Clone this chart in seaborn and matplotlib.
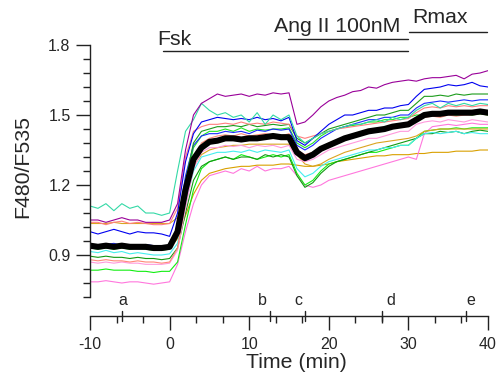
import numpy as np
import pandas as pd
import matplotlib
matplotlib.use("Agg")
import matplotlib.pyplot as plt
import seaborn as sns
from matplotlib.ticker import MultipleLocator, FixedLocator

# ---------------- data ----------------
time_min = list(range(-10, 41))

purple = [1.05,1.05,1.04,1.05,1.06,1.05,1.05,1.04,1.04,1.04,1.05,
          1.12,1.35,1.50,1.55,1.57,
          1.59,1.58,1.585,1.59,1.58,1.59,1.585,1.595,1.59,1.595,
          1.46,1.47,1.50,1.535,1.56,
          1.575,1.585,1.60,1.605,1.62,1.615,1.63,1.64,1.645,1.65,
          1.645,1.655,1.66,1.66,1.665,1.67,1.655,1.675,1.68,1.69]
teal = [1.11,1.10,1.12,1.09,1.12,1.10,1.11,1.08,1.08,1.07,1.08,
        1.26,1.43,1.48,1.55,1.52,
        1.50,1.51,1.49,1.50,1.47,1.51,1.46,1.50,1.48,1.50,
        1.41,1.38,1.40,1.42,1.43,
        1.44,1.45,1.46,1.46,1.47,1.48,1.47,1.49,1.48,1.49,
        1.52,1.54,1.55,1.53,1.55,1.54,1.55,1.54,1.55,1.545]
blue1 = [1.00,0.99,1.00,1.01,1.00,0.99,1.00,0.995,0.995,0.99,0.98,
         1.08,1.30,1.42,1.47,1.48,
         1.49,1.485,1.48,1.485,1.48,1.49,1.48,1.485,1.475,1.49,
         1.39,1.37,1.40,1.43,1.46,
         1.48,1.50,1.50,1.51,1.52,1.52,1.53,1.53,1.54,1.545,
         1.58,1.61,1.615,1.62,1.63,1.625,1.63,1.64,1.625,1.62]
blue2 = [0.945,0.94,0.945,0.95,0.94,0.945,0.94,0.945,0.94,0.935,0.94,
         1.02,1.24,1.37,1.41,1.42,
         1.42,1.43,1.425,1.43,1.42,1.435,1.43,1.44,1.435,1.44,
         1.37,1.35,1.37,1.40,1.42,
         1.44,1.45,1.46,1.47,1.48,1.48,1.49,1.49,1.50,1.50,
         1.53,1.55,1.555,1.56,1.555,1.56,1.565,1.56,1.565,1.565]
salmon1 = [1.04,1.04,1.03,1.04,1.045,1.035,1.04,1.035,1.03,1.03,1.035,
           1.10,1.32,1.43,1.45,1.46,
           1.46,1.465,1.46,1.47,1.46,1.465,1.46,1.47,1.465,1.46,
           1.41,1.40,1.41,1.42,1.43,
           1.44,1.445,1.45,1.455,1.46,1.465,1.47,1.475,1.48,1.485,
           1.51,1.53,1.535,1.53,1.54,1.535,1.54,1.535,1.54,1.54]
green_a = [0.94,0.935,0.94,0.935,0.94,0.935,0.93,0.935,0.93,0.93,0.935,
           1.00,1.22,1.38,1.43,1.44,
           1.45,1.45,1.455,1.45,1.46,1.45,1.455,1.46,1.455,1.46,
           1.40,1.38,1.40,1.42,1.44,
           1.45,1.46,1.47,1.48,1.49,1.50,1.50,1.51,1.52,1.52,
           1.55,1.58,1.58,1.585,1.58,1.59,1.585,1.59,1.59,1.59]
green_b = [0.895,0.89,0.895,0.89,0.89,0.885,0.89,0.885,0.885,0.88,0.885,
           0.93,1.08,1.22,1.28,1.30,
           1.31,1.32,1.31,1.32,1.32,1.31,1.33,1.32,1.33,1.32,
           1.24,1.19,1.21,1.25,1.28,
           1.30,1.31,1.32,1.33,1.34,1.35,1.36,1.37,1.38,1.39,
           1.40,1.42,1.42,1.43,1.425,1.43,1.42,1.43,1.435,1.43]
lime_a = [0.93,0.925,0.93,0.925,0.93,0.925,0.93,0.925,0.92,0.92,0.925,
          0.99,1.20,1.36,1.41,1.43,
          1.43,1.44,1.43,1.445,1.43,1.44,1.435,1.44,1.44,1.445,
          1.38,1.36,1.38,1.41,1.43,
          1.44,1.45,1.455,1.46,1.47,1.47,1.48,1.48,1.49,1.49,
          1.50,1.50,1.505,1.50,1.505,1.50,1.505,1.50,1.505,1.50]
lime_b = [0.835,0.835,0.84,0.835,0.835,0.835,0.83,0.83,0.825,0.83,0.83,
          0.87,1.03,1.18,1.27,1.30,
          1.31,1.32,1.31,1.33,1.32,1.31,1.32,1.33,1.32,1.33,
          1.25,1.20,1.22,1.26,1.29,
          1.30,1.31,1.32,1.33,1.34,1.34,1.35,1.36,1.37,1.37,
          1.40,1.43,1.435,1.44,1.44,1.445,1.44,1.445,1.445,1.445]
cyan = [0.915,0.91,0.92,0.91,0.915,0.905,0.91,0.905,0.90,0.90,0.905,
        0.95,1.12,1.26,1.32,1.33,
        1.34,1.34,1.345,1.34,1.35,1.34,1.35,1.345,1.34,1.35,
        1.27,1.235,1.25,1.28,1.30,
        1.31,1.32,1.33,1.34,1.35,1.35,1.36,1.36,1.37,1.37,
        1.40,1.42,1.425,1.42,1.425,1.43,1.42,1.425,1.42,1.42]
orange_a = [1.035,1.035,1.035,1.04,1.035,1.035,1.035,1.035,1.035,1.035,1.035,
            1.06,1.17,1.28,1.33,1.35,
            1.36,1.365,1.37,1.37,1.375,1.375,1.375,1.375,1.375,1.375,
            1.33,1.29,1.28,1.29,1.31,
            1.325,1.34,1.35,1.36,1.37,1.38,1.385,1.39,1.395,1.40,
            1.41,1.43,1.435,1.44,1.44,1.44,1.44,1.44,1.44,1.44]
orange_b = [0.93,0.93,0.93,0.93,0.93,0.93,0.93,0.93,0.93,0.93,0.93,
            0.97,1.07,1.16,1.22,1.25,
            1.26,1.27,1.275,1.28,1.28,1.285,1.285,1.285,1.29,1.29,
            1.285,1.28,1.28,1.285,1.29,
            1.30,1.305,1.31,1.315,1.32,1.325,1.325,1.33,1.33,1.33,
            1.335,1.335,1.34,1.34,1.34,1.345,1.345,1.345,1.35,1.35]
pink_a = [0.785,0.785,0.79,0.785,0.78,0.785,0.785,0.78,0.775,0.78,0.785,
          0.86,1.00,1.12,1.20,1.24,
          1.25,1.26,1.25,1.27,1.26,1.28,1.26,1.27,1.27,1.28,
          1.24,1.20,1.19,1.20,1.22,
          1.23,1.24,1.25,1.26,1.27,1.28,1.29,1.30,1.31,1.32,
          1.31,1.42,1.45,1.455,1.46,1.455,1.46,1.465,1.46,1.46]
pink_b = [0.87,0.865,0.87,0.865,0.87,0.865,0.865,0.86,0.86,0.86,0.865,
          0.92,1.10,1.27,1.34,1.36,
          1.36,1.37,1.365,1.37,1.36,1.37,1.365,1.37,1.36,1.37,
          1.31,1.30,1.31,1.33,1.35,
          1.36,1.37,1.38,1.39,1.40,1.40,1.41,1.42,1.43,1.43,
          1.46,1.47,1.475,1.47,1.48,1.475,1.47,1.48,1.475,1.47]
salmon2 = [0.88,0.875,0.88,0.875,0.875,0.87,0.875,0.87,0.87,0.865,0.87,
           0.93,1.13,1.30,1.38,1.40,
           1.41,1.415,1.41,1.42,1.41,1.415,1.42,1.415,1.41,1.42,
           1.35,1.33,1.34,1.36,1.38,
           1.39,1.40,1.41,1.42,1.43,1.43,1.44,1.45,1.45,1.46,
           1.48,1.49,1.495,1.49,1.50,1.495,1.50,1.50,1.505,1.50]
mean_trace = [0.94,0.935,0.94,0.935,0.94,0.935,0.935,0.935,0.93,0.93,0.935,
              1.00,1.18,1.31,1.36,1.385,
              1.39,1.40,1.40,1.395,1.40,1.40,1.405,1.41,1.405,1.405,
              1.34,1.315,1.33,1.355,1.37,
              1.385,1.40,1.41,1.42,1.43,1.435,1.44,1.45,1.455,1.46,
              1.48,1.50,1.505,1.505,1.51,1.51,1.51,1.51,1.515,1.51]

y_ticks = [0.9, 1.2, 1.5, 1.8]
y_tick_labels = ["0.9", "1.2", "1.5", "1.8"]
x_ticks = [-10, 0, 10, 20, 30, 40]
x_tick_labels = ["-10", "0", "10", "20", "30", "40"]
event_labels = ["a", "b", "c", "d", "e"]
event_times = [-6.0, 12.6, 17.0, 26.7, 37.2]
event_label_x = [-5.85, 11.7, 16.2, 27.8, 37.9]

traces = {
    "orange_b": (orange_b, "#D9A000"),
    "pink_a": (pink_a, "#FF77DD"),
    "lime_b": (lime_b, "#11EE11"),
    "green_b": (green_b, "#129A12"),
    "cyan": (cyan, "#44EEEE"),
    "orange_a": (orange_a, "#DAA520"),
    "pink_b": (pink_b, "#FF99DD"),
    "salmon2": (salmon2, "#FF8877"),
    "lime_a": (lime_a, "#22E622"),
    "blue2": (blue2, "#1A2BFF"),
    "green_a": (green_a, "#1C9C1C"),
    "salmon1": (salmon1, "#FF7F7F"),
    "blue1": (blue1, "#0000F0"),
    "teal": (teal, "#33D9A6"),
    "purple": (purple, "#990099"),
}

rows = []
for name, (vals, col) in traces.items():
    for t, v in zip(time_min, vals):
        rows.append((name, t, v))
df = pd.DataFrame(rows, columns=["trace", "time", "ratio"])
palette = {name: col for name, (vals, col) in traces.items()}
df_mean = pd.DataFrame({"time": time_min, "ratio": mean_trace})

# ---------------- figure ----------------
sns.set_style("ticks")
plt.rcParams["font.family"] = ["Liberation Sans", "DejaVu Sans"]

fig = plt.figure(figsize=(4.97, 3.79), dpi=100)
ax = fig.add_axes([90/497, 63/379, 398/497, 306/379])

sns.lineplot(data=df, x="time", y="ratio", hue="trace", palette=palette,
             hue_order=list(traces.keys()), linewidth=0.8, legend=False,
             ax=ax, estimator=None)
sns.lineplot(data=df_mean, x="time", y="ratio", color="black", linewidth=4.4,
             ax=ax, estimator=None)

ax.set_xlim(-10, 40)
ax.set_ylim(0.6386, 1.95)
for s in ["top", "right"]:
    ax.spines[s].set_visible(False)
ax.spines["left"].set_bounds(0.72, 1.8)
ax.spines["bottom"].set_bounds(-10, 40)
for s in ["left", "bottom"]:
    ax.spines[s].set_linewidth(1.0)
    ax.spines[s].set_color("#222222")

ax.set_yticks(y_ticks)
ax.set_yticklabels(y_tick_labels)
ax.yaxis.set_minor_locator(FixedLocator(np.arange(0.72, 1.801, 0.06)))
ax.set_xticks(x_ticks)
ax.set_xticklabels(x_tick_labels)
ax.xaxis.set_minor_locator(MultipleLocator(10/3))
ax.tick_params(which="major", length=10, width=1.0, color="#222222",
               labelsize=11.5, direction="out")
ax.tick_params(which="minor", length=5, width=1.0, color="#222222", direction="out")
ax.tick_params(axis="y", which="major", pad=4)
ax.tick_params(axis="x", which="major", pad=5)
ax.set_xlabel("")
ax.set_ylabel("")

fig.text(296/497, 1 - 362/379, "Time (min)", ha="center", va="center", fontsize=15.3)
fig.text(22.5/497, 1 - 166.7/379, "F480/F535", ha="center", va="center",
         rotation=90, fontsize=15.3)

# event markers on the time axis
for t in event_times:
    ax.plot([t, t], [0.618, 0.661], color="#222222", lw=1.0, clip_on=False)
for lab, xl in zip(event_labels, event_label_x):
    ax.text(xl, 0.703, lab, ha="center", va="center", fontsize=11.5)

# treatment bars
ax.plot([-0.87, 30.0], [1.774, 1.774], color="#222222", lw=1.0, clip_on=False)
ax.plot([14.9, 30.0], [1.824, 1.824], color="#222222", lw=1.0, clip_on=False)
ax.plot([30.1, 39.9], [1.857, 1.857], color="#222222", lw=1.0, clip_on=False)
ax.text(-1.6, 1.80, "Fsk", ha="left", va="baseline", fontsize=15.3)
ax.text(13.1, 1.854, "Ang II 100nM", ha="left", va="baseline", fontsize=15.3)
ax.text(30.5, 1.893, "Rmax", ha="left", va="baseline", fontsize=15.3)

fig.savefig("out.png", dpi=100)
